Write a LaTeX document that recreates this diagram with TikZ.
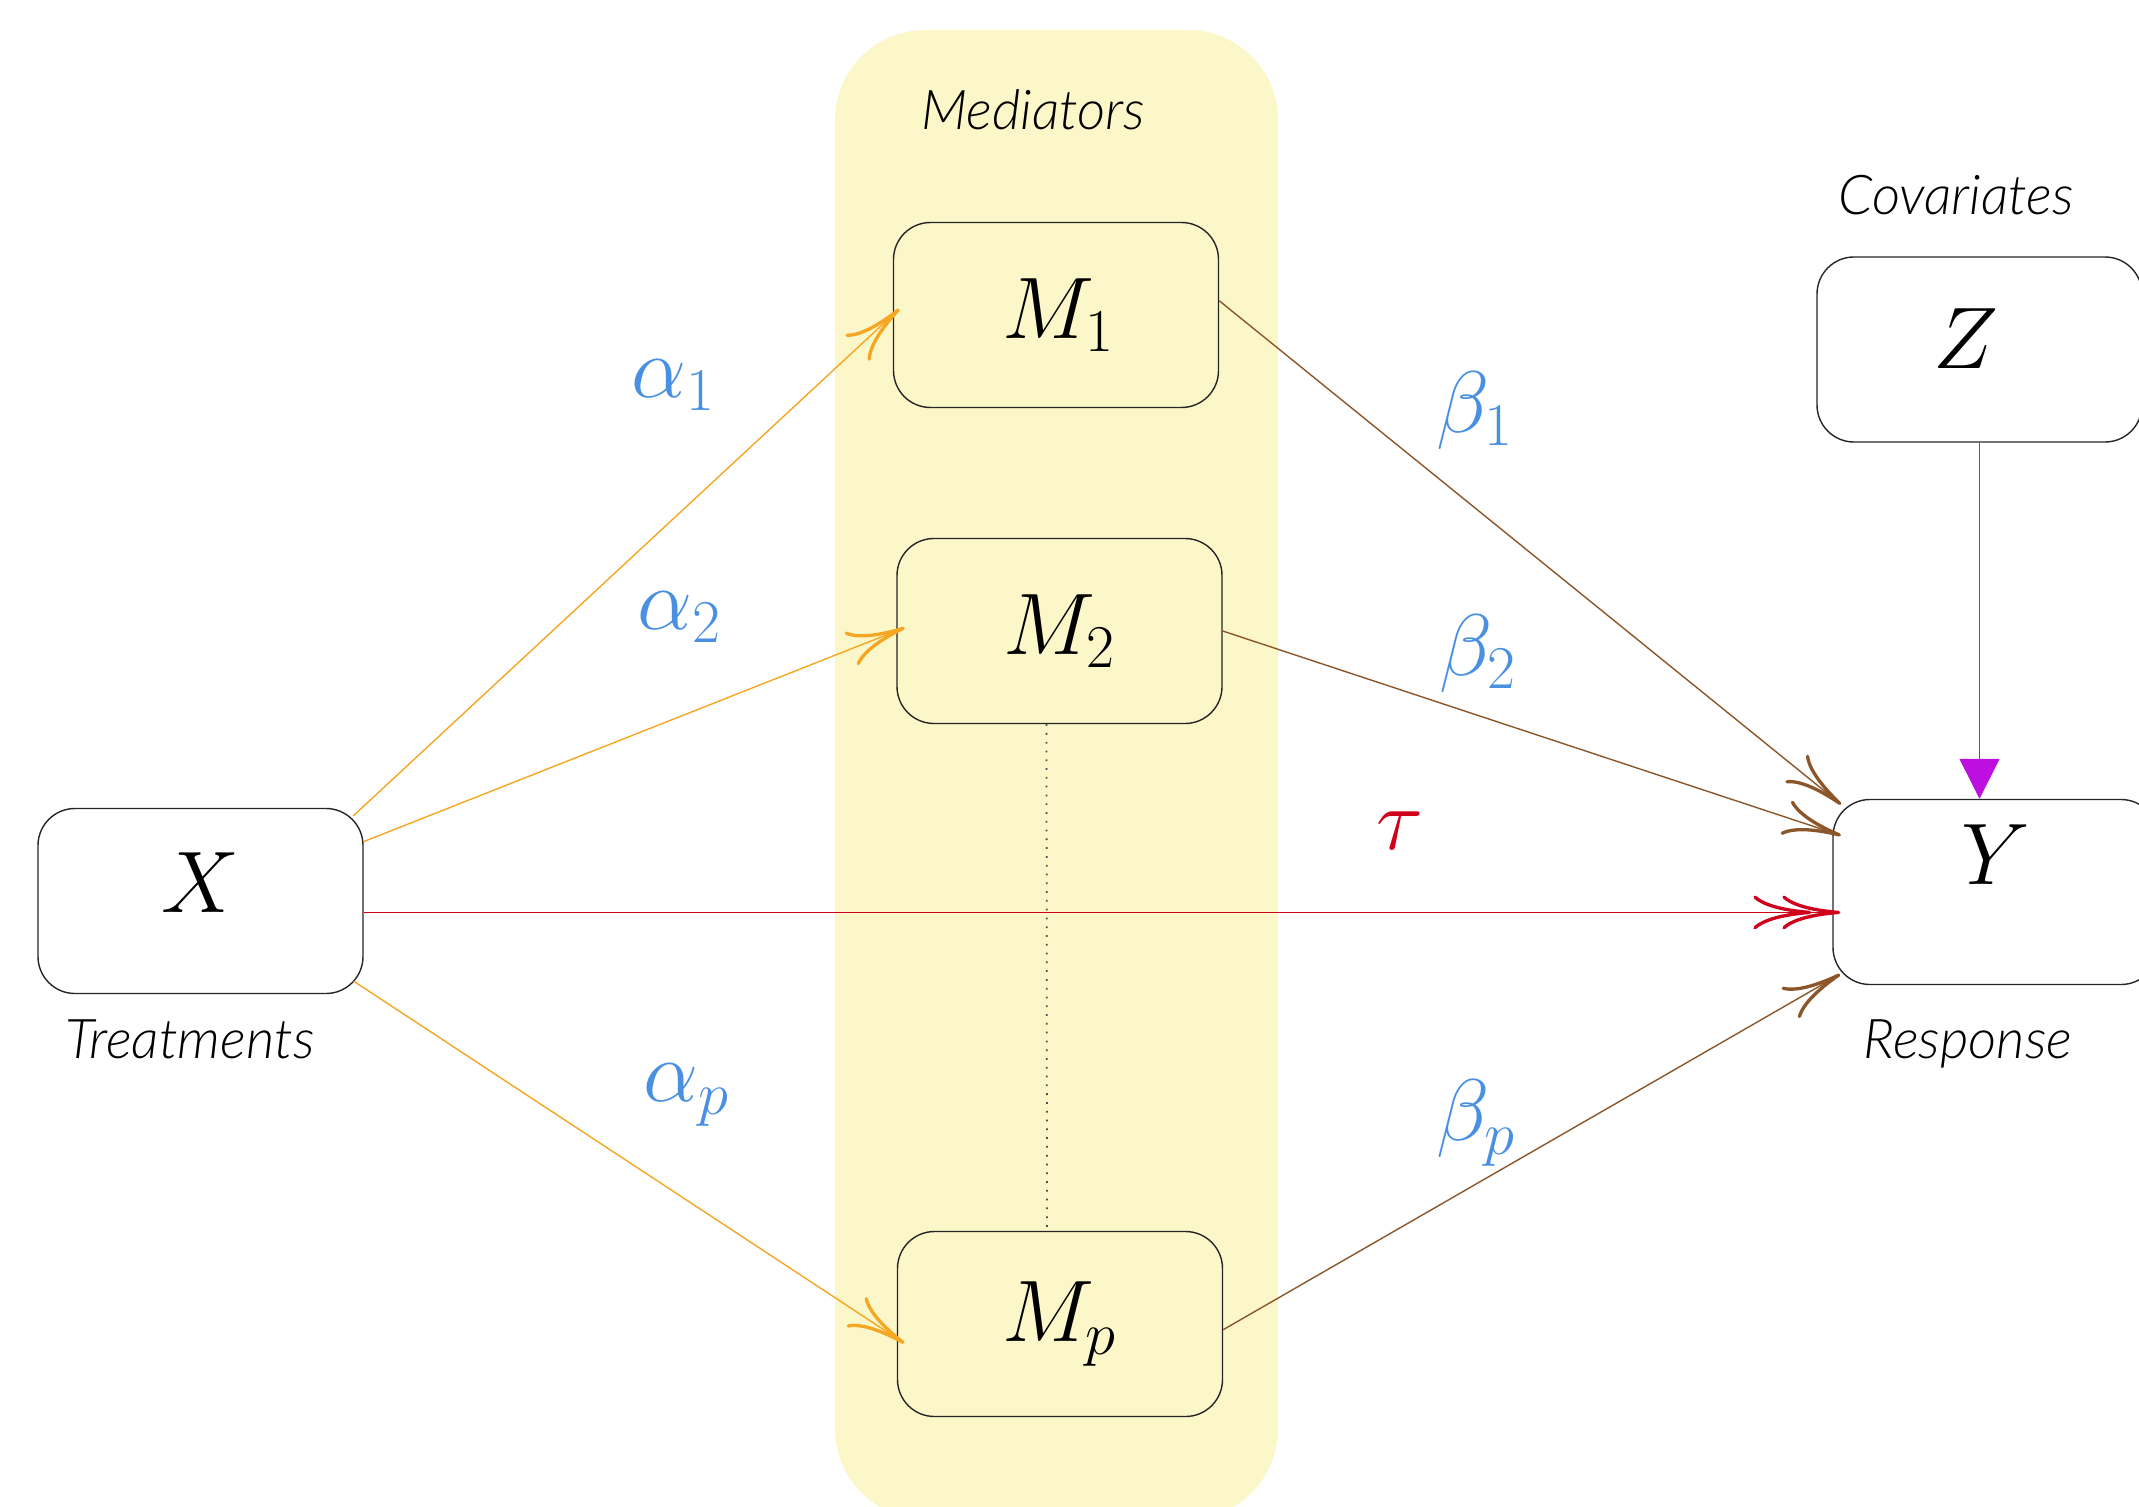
\documentclass[tikz,border=0pt]{standalone}
\usepackage{fontspec}
\newfontfamily\lightital{Lato Light Italic}
\usetikzlibrary{arrows.meta,calc}
\definecolor{medbg}{HTML}{FCF7C9}
\definecolor{lblblue}{HTML}{4A90E2}
\definecolor{tauRed}{HTML}{D0021B}
\definecolor{alphaOrange}{HTML}{F5A623}
\definecolor{betaBrown}{HTML}{8B572A}
\definecolor{covMagenta}{HTML}{BD10E0}
\begin{document}
\begin{tikzpicture}[x=1cm,y=1cm,
  box/.style={draw=black!85, line width=0.4pt, rounded corners=0.37cm,
    minimum width=3.25cm, minimum height=1.85cm, inner sep=0pt,
    font=\fontsize{23}{28}\selectfont},
  greek/.style={font=\fontsize{24}{29}\selectfont, inner sep=0pt},
  caption/.style={font=\lightital\fontsize{15.6}{18}\selectfont, anchor=base, inner sep=0pt},
  cmtip/.style={-{To[length=0.58cm,width=0.36cm,line width=0.95pt]}},
  alphaarrow/.style={cmtip, draw=alphaOrange, line width=0.4pt, shorten >=-0.09cm},
  betaarrow/.style={cmtip, draw=betaBrown, line width=0.4pt, shorten >=-0.09cm},
  tauarrow/.style={-{To[length=0.58cm,width=0.34cm,line width=0.95pt,sep=-0.29cm]To[length=0.58cm,width=0.34cm,line width=0.95pt]},
    draw=tauRed, line width=0.4pt, shorten >=-0.08cm},
  covarrow/.style={-{Triangle[length=0.4cm,width=0.4cm]}, draw=covMagenta, fill=covMagenta, line width=0.4pt},
  ]
\useasboundingbox (0,0) rectangle (21.39,-15.07);

% mediator container
\node[fill=medbg, rounded corners=0.9cm, minimum width=4.43cm, minimum height=14.89cm, inner sep=0pt]
  (medbox) at (10.565,-7.745) {};
\node[caption] (medlbl) at (10.33,-1.30) {Mediators};

% boxes
\node[box] (X)  at (2.005,-9.01)  {\raisebox{0.16cm}[0.55cm][0pt]{$X$}};
\node[box] (M1) at (10.56,-3.15)  {\raisebox{0.10cm}{\hspace*{0.06cm}$M_1$}};
\node[box] (M2) at (10.595,-6.31) {$M_2$};
\node[box] (Mp) at (10.60,-13.24) {$M_p$};
\node[box] (Y)  at (19.955,-8.92) {\raisebox{0.35cm}[0.55cm][0pt]{$Y$}};
\node[box] (Z)  at (19.795,-3.495) {\raisebox{0.08cm}[0.55cm][0pt]{\hspace*{-0.28cm}$Z$}};

% captions
\node[caption] (covlbl) at (19.56,-2.15) {Covariates};
\node[caption] (trtlbl) at (1.90,-10.58) {Treatments};
\node[caption] (reslbl) at (19.68,-10.58) {Response};

% dotted link between mediators
\draw[dotted, draw=black!70, line width=0.5pt] ([xshift=-0.13cm]M2.south) -- ([xshift=-0.13cm]Mp.north);

% alpha paths
\draw[alphaarrow, shorten <=-0.12cm] (X.30) -- (M1.west);
\draw[alphaarrow] (X.20) -- (M2.west);
\draw[alphaarrow, shorten <=-0.12cm] (X.-28) -- (Mp.185);

% beta paths
\draw[betaarrow] (M1.5) -- (Y.150);
\draw[betaarrow] (M2.east) -- (Y.160);
\draw[betaarrow] (Mp.-2) -- (Y.208);

% direct effect
\draw[tauarrow] (X.-4) -- (X.-4 -| Y.west);

% covariates
\draw[covarrow] (Z.south) -- (Z.south |- Y.north);

% labels
\node[greek, text=lblblue] (a1) at (6.74,-3.85)  {$\alpha_1$};
\node[greek, text=lblblue] (a2) at (6.80,-6.17)  {$\alpha_2$};
\node[greek, text=lblblue] (ap) at (6.87,-10.95) {$\alpha_p$};
\node[greek, text=lblblue] (b1) at (14.75,-4.11) {$\beta_1$};
\node[greek, text=lblblue] (b2) at (14.78,-6.54) {$\beta_2$};
\node[greek, text=lblblue] (bp) at (14.76,-11.23) {$\beta_p$};
\node[greek, text=tauRed] (tau) at (14.00,-8.31) {$\tau$};
\end{tikzpicture}
\end{document}
